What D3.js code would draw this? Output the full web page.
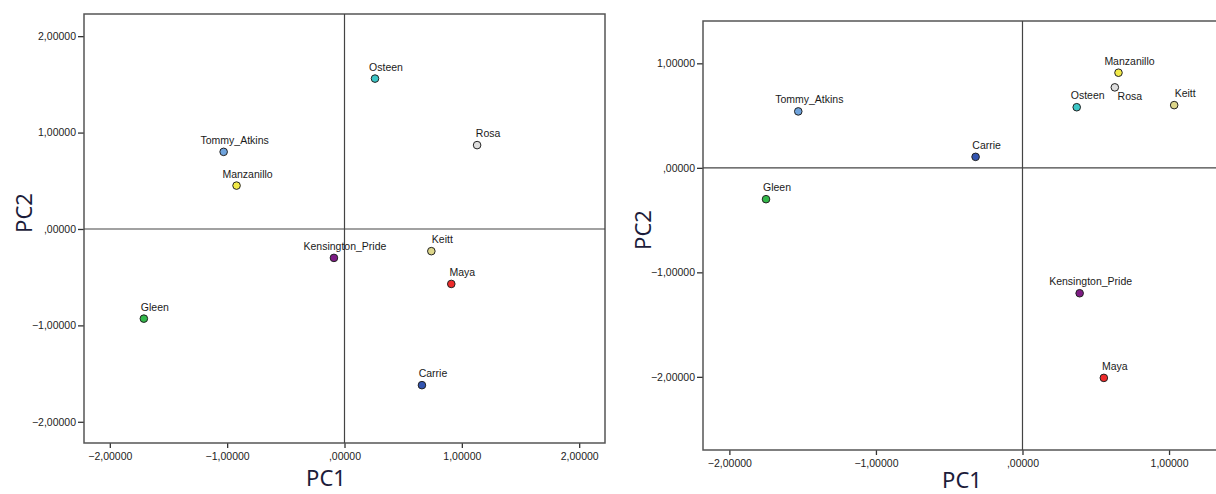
<!DOCTYPE html>
<html>
<head>
<meta charset="utf-8">
<script src="https://cdn.jsdelivr.net/npm/d3@7/dist/d3.min.js"></script>
<style>
  body { margin: 0; background: #fff; }
  .tick text { font-family: "Liberation Sans", Arial, sans-serif; font-size: 10.5px; fill: #222; }
  .pt-label { font-family: "Liberation Sans", Arial, sans-serif; font-size: 10.5px; fill: #1a1a1a; }
  .axis-title { font-family: "Noto Sans", sans-serif; font-size: 22px; fill: #1c1c3a; }
</style>
</head>
<body>
<div id="chart"></div>
<script>
// cultivars and their colours
const names = ['Osteen', 'Rosa', 'Tommy_Atkins', 'Manzanillo', 'Kensington_Pride', 'Keitt', 'Maya', 'Gleen', 'Carrie'];
const colors = ['#3cc6c6', '#dedede', '#6fa3dc', '#f2ea48', '#7e1c84', '#ddd68a', '#ee2b2b', '#33b84a', '#3254b0'];

// left plot scores
const leftPC1 = [0.26, 1.13, -1.03, -0.92, -0.09, 0.74, 0.91, -1.71, 0.66];
const leftPC2 = [1.56, 0.87, 0.80, 0.45, -0.30, -0.23, -0.57, -0.93, -1.62];

// right plot scores
const rightPC1 = [0.37, 0.63, -1.53, 0.655, 0.39, 1.035, 0.555, -1.75, -0.32];
const rightPC2 = [0.58, 0.77, 0.54, 0.91, -1.20, 0.60, -2.01, -0.30, 0.105];

const leftTicks = [-2, -1, 0, 1, 2];
const rightXTicks = [-2, -1, 0, 1];
const rightYTicks = [-2, -1, 0, 1];

const width = 1216, height = 494;

const svg = d3.select('#chart').append('svg')
    .attr('width', width)
    .attr('height', height);

// SPSS style number format: 1,00000 / ,00000
function fmt(v) {
    let s = d3.format('.5f')(v).replace('.', ',');
    if (Math.abs(v) < 1) s = s.replace(/^(-?)0,/, '$1,');
    return s;
}

function drawPanel(opt) {
    const x = d3.scaleLinear().domain(opt.xDomain).range([opt.left, opt.right]);
    const y = d3.scaleLinear().domain(opt.yDomain).range([opt.bottom, opt.top]);

    const g = svg.append('g');

    // axes
    g.append('g')
        .attr('transform', `translate(${opt.left},0)`)
        .call(d3.axisLeft(y).tickValues(opt.yTicks).tickFormat(fmt).tickSize(6).tickPadding(2))
        .call(a => a.select('.domain').remove())
        .call(a => a.selectAll('line').attr('stroke', '#333').attr('stroke-width', 1.3));

    g.append('g')
        .attr('transform', `translate(0,${opt.bottom})`)
        .call(d3.axisBottom(x).tickValues(opt.xTicks).tickFormat(fmt).tickSize(5).tickPadding(5))
        .call(a => a.select('.domain').remove())
        .call(a => a.selectAll('line').attr('stroke', '#333').attr('stroke-width', 1.3));

    // frame
    g.append('rect')
        .attr('x', opt.left)
        .attr('y', opt.top)
        .attr('width', opt.right - opt.left)
        .attr('height', opt.bottom - opt.top)
        .attr('fill', 'none')
        .attr('stroke', '#555')
        .attr('stroke-width', 1.5);

    // zero reference lines
    g.append('line')
        .attr('x1', x(0)).attr('x2', x(0))
        .attr('y1', opt.top).attr('y2', opt.bottom)
        .attr('stroke', '#444').attr('stroke-width', 1.2);
    g.append('line')
        .attr('x1', opt.left).attr('x2', opt.right)
        .attr('y1', y(0)).attr('y2', y(0))
        .attr('stroke', '#444').attr('stroke-width', 1.2);

    const pts = names.map((n, i) => ({ name: n, color: colors[i], pc1: opt.pc1[i], pc2: opt.pc2[i] }));

    g.selectAll('circle')
        .data(pts)
      .enter()
      .append('circle')
        .attr('cx', d => x(d.pc1))
        .attr('cy', d => y(d.pc2))
        .attr('r', 3.8)
        .attr('fill', d => d.color)
        .attr('stroke', '#222')
        .attr('stroke-width', 1);

    g.selectAll('.pt-label')
        .data(pts)
      .enter()
      .append('text')
        .attr('class', 'pt-label')
        .attr('text-anchor', 'middle')
        .attr('x', d => x(d.pc1) + (opt.below.includes(d.name) ? 15 : 11))
        .attr('y', d => y(d.pc2) + (opt.below.includes(d.name) ? 13 : -8))
        .text(d => d.name);

    // axis titles
    g.append('text')
        .attr('class', 'axis-title')
        .attr('text-anchor', 'middle')
        .attr('x', opt.xTitle[0])
        .attr('y', opt.xTitle[1])
        .text('PC1');

    g.append('text')
        .attr('class', 'axis-title')
        .attr('text-anchor', 'middle')
        .attr('transform', `translate(${opt.yTitle[0]},${opt.yTitle[1]}) rotate(-90)`)
        .text('PC2');
}

drawPanel({
    left: 84, right: 605, top: 14, bottom: 443,
    xDomain: [-2.22, 2.22], yDomain: [-2.22, 2.23],
    xTicks: leftTicks, yTicks: leftTicks,
    pc1: leftPC1, pc2: leftPC2,
    below: [],
    xTitle: [326, 486], yTitle: [32, 213]
});

drawPanel({
    left: 703, right: 1235, top: 21, bottom: 450,
    xDomain: [-2.18, 1.45], yDomain: [-2.70, 1.405],
    xTicks: rightXTicks, yTicks: rightYTicks,
    pc1: rightPC1, pc2: rightPC2,
    below: ['Rosa'],
    xTitle: [962, 488], yTitle: [651, 230]
});
</script>
</body>
</html>
